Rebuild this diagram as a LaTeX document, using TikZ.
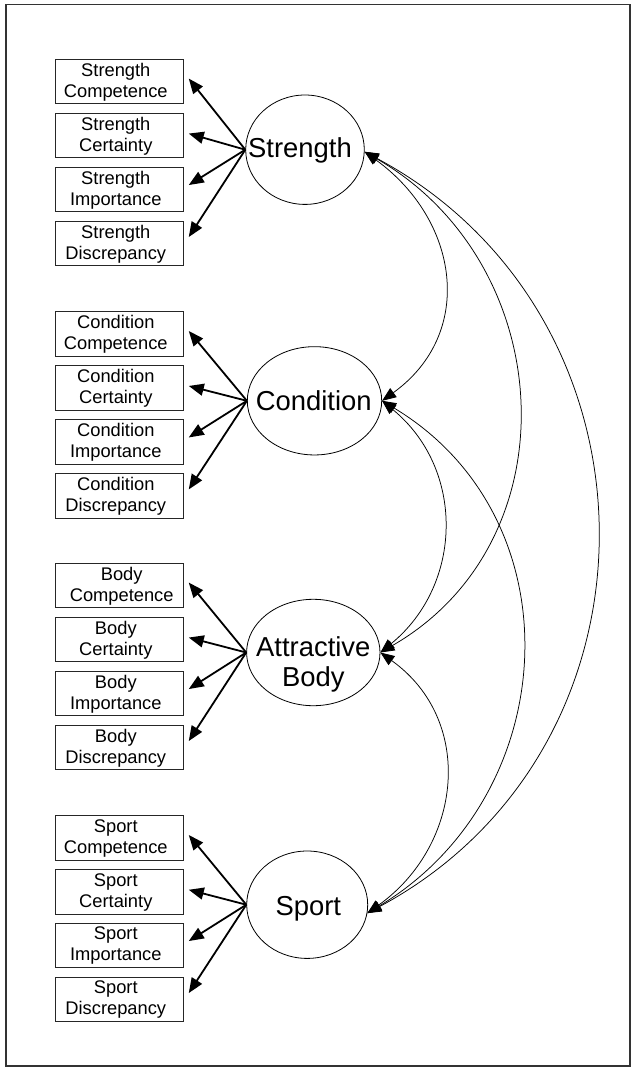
\documentclass[tikz,border=0pt]{standalone}
\usepackage{fontspec}
\setmainfont{Liberation Sans}
\usetikzlibrary{arrows.meta,shapes.geometric}

\tikzset{
  obsbox/.style={draw=black!85, line width=0.9pt, minimum width=127.6pt,
    minimum height=44.5pt, inner sep=0pt},
  obstext/.style={anchor=north, inner sep=0pt, align=center,
    font=\fontsize{18.3}{21}\selectfont},
  latent/.style={ellipse, draw=black, line width=0.8pt, inner sep=0pt},
  lattext/.style={inner sep=0pt, align=center,
    font=\fontsize{27.4}{30.7}\selectfont},
  load/.style={line width=1.8pt, -{Triangle[length=15pt,width=12pt]}},
  cov/.style={line width=0.75pt,
    {Triangle[length=14pt,width=11pt]}-{Triangle[length=14pt,width=11pt]}},
  frame/.style={draw=black!80, line width=1.3pt},
}

% indicator box: name, top edge, first line, second line, text offset
\newcommand\indic[5]{%
  \node[obsbox] (#1) at (119.5,#2+22.25) {};
  \node[obstext] (#1t) at ([shift={(#5,4)}]#1.north) {#3\\#4};
}

\begin{document}
\begin{tikzpicture}[x=1pt,y=-1pt]
\useasboundingbox (0,0) rectangle (631,1068);
\draw[frame] (6,4.5) rectangle (630,1066);

% Strength
\indic{s1}{59.3}{Strength}{Competence}{-3.7}
\indic{s2}{113.3}{Strength}{Certainty}{-3.7}
\indic{s3}{167.3}{Strength}{Importance}{-3.7}
\indic{s4}{221.3}{Strength}{Discrepancy}{-3.7}
\node[latent, minimum width=118.6pt, minimum height=109.4pt] (S) at (305,149.7) {};
\node[lattext, anchor=base] (St) at (300,157.3) {Strength};

% Condition
\indic{c1}{311.7}{Condition}{Competence}{-3.7}
\indic{c2}{365.7}{Condition}{Certainty}{-3.7}
\indic{c3}{419.7}{Condition}{Importance}{-3.7}
\indic{c4}{473.7}{Condition}{Discrepancy}{-3.7}
\node[latent, minimum width=134.4pt, minimum height=108.3pt] (C) at (314.5,400.8) {};
\node[lattext, anchor=base] (Ct) at (313.8,410) {Condition};

% Attractive body
\indic{b1}{563.3}{Body}{Competence}{2.2}
\indic{b2}{617.3}{Body}{Certainty}{-3.7}
\indic{b3}{671.3}{Body}{Importance}{-3.7}
\indic{b4}{725.3}{Body}{Discrepancy}{-3.7}
\node[latent, minimum width=133.4pt, minimum height=106.4pt] (B) at (313.3,652.5) {};
\node[lattext, anchor=north] (Bt) at (313.3,636) {Attractive\\Body};

% Sport
\indic{p1}{815.7}{Sport}{Competence}{-3.7}
\indic{p2}{869.5}{Sport}{Certainty}{-3.7}
\indic{p3}{923.3}{Sport}{Importance}{-3.7}
\indic{p4}{977.3}{Sport}{Discrepancy}{-3.7}
\node[latent, minimum width=121pt, minimum height=107.4pt] (P) at (307.2,904.7) {};
\node[lattext, anchor=base] (Pt) at (308.3,915.7) {Sport};

% factor loadings
\foreach \f/\g in {S/s, C/c, B/b, P/p}{
  \foreach \i/\d in {1/-3, 2/-2, 3/-4.5, 4/-6.5}
    \draw[load] (\f.west) -- ([shift={(5,\d)}]\g\i.east);
}

% factor covariances
\draw[cov] (S.-2) .. controls +(94,68) and +(94,-68) .. (C.east);
\draw[cov] (S.-2) .. controls +(194,112) and +(194,-112) .. (B.east);
\draw[cov] (S.-2) .. controls +(307,165) and +(307,-165) .. (P.-8);
\draw[cov] (C.east) .. controls +(83,68) and +(83,-68) .. (B.east);
\draw[cov] (C.east) .. controls +(196,118) and +(196,-118) .. (P.-8);
\draw[cov] (B.east) .. controls +(95,68) and +(95,-68) .. (P.-8);
\end{tikzpicture}
\end{document}
